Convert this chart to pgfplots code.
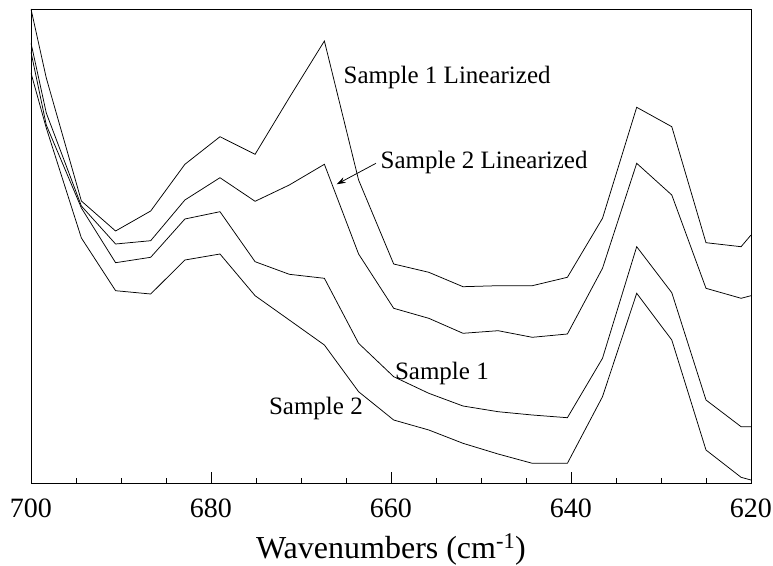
\documentclass[border=0pt]{standalone}
\usepackage{pgfplots}
\pgfplotsset{compat=1.18}
\usepackage{fontspec}
\setmainfont{Liberation Serif}
\usetikzlibrary{arrows.meta}

% Spectra: wavenumber (cm^-1) vs. absorbance (arbitrary units, offset)
\pgfplotstableread{
wn     s1lin  s2lin  s1     s2
700.0  474.0  440.0  431.0  410.0
698.3  405.0  370.0  358.0  355.0
694.4  282.0  277.0  275.0  245.0
690.6  252.0  239.0  220.3  192.3
686.7  272.0  242.3  225.7  189.0
682.9  318.7  283.0  264.0  223.0
679.0  346.3  305.3  271.3  229.0
675.1  328.7  281.7  221.3  187.3
671.3  385.3  298.0  208.7  163.0
667.4  442.0  318.7  204.7  138.0
663.6  303.0  229.0  139.7   91.3
659.7  219.0  174.7  106.3   63.0
655.8  210.7  164.7   89.7   53.0
652.0  196.3  149.7   77.0   39.7
648.1  197.3  152.3   71.3   29.0
644.3  197.3  145.7   68.0   19.7
640.4  205.7  149.0   65.3   19.7
636.5  264.7  214.7  124.7   86.3
632.7  375.7  319.7  236.3  189.7
628.8  356.3  288.0  190.3  143.0
625.0  240.3  194.7   83.0   33.0
621.1  236.3  184.7   56.3    5.7
620.0  248.0  187.3   56.3    3.0
}\spectra

\begin{document}
\begin{tikzpicture}
\useasboundingbox (-31pt,-82pt) rectangle (742pt,483pt);
\begin{axis}[
  at={(0,0)}, anchor=south west,
  scale only axis,
  width=720pt, height=474pt,
  x dir=reverse,
  xmin=620, xmax=700,
  ymin=0, ymax=474,
  xtick={620,640,660,680,700},
  minor x tick num=3,
  ytick=\empty,
  tick align=inside,
  xtick pos=bottom,
  major tick length=11pt,
  minor tick length=5pt,
  line width=0.9pt,
  tick style={line width=0.8pt, black},
  /pgf/number format/assume math mode=true,
  xticklabel style={font=\fontsize{28}{28}\selectfont, yshift=-12pt},
  xlabel={Wavenumbers (cm\textsuperscript{-1})},
  xlabel style={font=\fontsize{32}{32}\selectfont,
    at={(axis description cs:0.5,0)}, anchor=base, yshift=-75pt},
]
\addplot[black, line width=0.75pt] table[x=wn, y=s1lin] {\spectra};
\addplot[black, line width=0.75pt] table[x=wn, y=s2lin] {\spectra};
\addplot[black, line width=0.75pt] table[x=wn, y=s1] {\spectra};
\addplot[black, line width=0.75pt] table[x=wn, y=s2] {\spectra};

\node[anchor=base west, font=\fontsize{25}{25}\selectfont, inner sep=0pt]
  at (axis cs:665.3,399.7) {Sample 1 Linearized};
\node[anchor=base west, font=\fontsize{25}{25}\selectfont, inner sep=0pt]
  at (axis cs:661.2,314.5) {Sample 2 Linearized};
\node[anchor=base west, font=\fontsize{25}{25}\selectfont, inner sep=0pt]
  at (axis cs:659.6,103.7) {Sample 1};
\node[anchor=base west, font=\fontsize{25}{25}\selectfont, inner sep=0pt]
  at (axis cs:673.6,68.7) {Sample 2};
\draw[-{Stealth[length=9pt,width=6pt]}, line width=0.75pt]
  (axis cs:661.67,319.7) -- (axis cs:666.03,298.7);
\end{axis}
\end{tikzpicture}
\end{document}
